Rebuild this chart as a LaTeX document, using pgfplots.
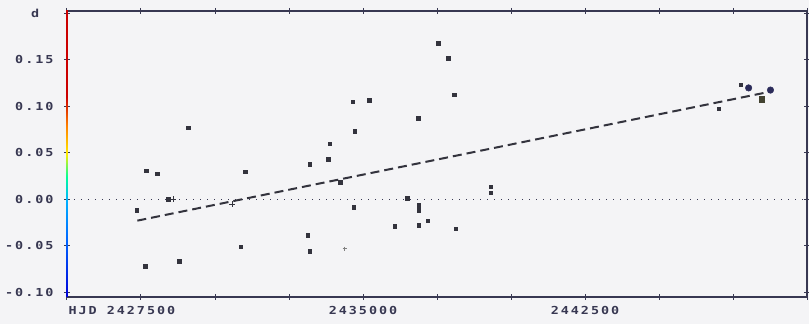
\documentclass[border=0pt]{standalone}
\usepackage{pgfplots}
\pgfplotsset{compat=1.18}
\usepackage{fontspec}
\newfontfamily\plotfont{DejaVu Sans Mono}[FakeStretch=1.22,LetterSpace=18]
\definecolor{ink}{rgb}{0.22,0.22,0.32}
\definecolor{ptc}{rgb}{0.20,0.20,0.24}
\definecolor{bg}{rgb}{0.955,0.955,0.965}
\pgfdeclareverticalshading{spine}{100bp}{color(0bp)=(blue!85!black); color(25bp)=(blue!85!black); color(35bp)=(blue!60!cyan); color(42bp)=(cyan!70!blue); color(46bp)=(cyan!60!green); color(50bp)=(yellow!85!orange); color(55bp)=(orange); color(60bp)=(red!80!black); color(75bp)=(red!80!black); color(100bp)=(red!80!black)}

\pgfplotstableread{
x y
2427356 -0.0114
2427634 -0.0717
2427668 0.0307
2428047 0.0277
2428416 0.0000
2428785 -0.0663
2429101 0.0769
2430867 -0.0511
2431025 0.0299
2433138 -0.0385
2433195 -0.0560
2433195 0.0375
2433833 0.0431
2433876 0.0598
2434229 0.0183
2434648 0.1049
2434682 -0.0084
2434715 0.0733
2435208 0.1069
2436074 -0.0292
2436494 0.0015
2436863 0.0871
2436887 -0.0060
2436887 -0.0117
2436887 -0.0277
2437182 -0.0231
2437534 0.1676
2437870 0.1519
2438071 0.1126
2438132 -0.0314
}\squares
\pgfplotstableread{
x y
2439323 0.0140
2439323 0.0069
2447022 0.0978
2447770 0.1231
}\dots
\pgfplotstableread{
x y
2428584 0.0000
2430588 -0.0055
}\pluses
\pgfplotstableread{
x y
2434380 -0.0530
}\faint
\pgfplotstableread{
x y
2448028 0.1198
2448766 0.1175
}\circs
\pgfplotstableread{
x y
2448464 0.1075
}\bigsq
\pgfplotstableread{
x y
2427376 -0.0229
2448745 0.1157
}\fit
\pgfplotstableread{
x y
2425000 0
2450000 0
}\zero

\begin{document}
\begin{tikzpicture}
\fill[bg] (-67pt,-27pt) rectangle (742pt,297pt);
\begin{axis}[
  at={(0,0)}, anchor=south west,
  scale only axis, width=740pt, height=286pt,
  xmin=2425000, xmax=2450000, ymin=-0.105, ymax=0.2025,
  xtick={2425000,2427500,2430000,2432500,2435000,2437500,2440000,2442500,2445000,2447500,2450000},
  xticklabels={{},{\llap{HJD }2427500},{},{},2435000,{},{},2442500,{},{},{}},
  ytick={-0.1,-0.05,0,0.05,0.1,0.15,0.2},
  yticklabels={-0.10,-0.05,0.00,0.05,0.10,0.15,{}},
  scaled ticks=false,
  tick align=center, major tick length=6pt,
  tick style={ink, line width=1pt},
  axis line style={ink, line width=1.5pt},
  ticklabel style={font=\plotfont\bfseries\fontsize{11}{11}\selectfont, text=ink},
  xticklabel style={yshift=-3pt},
  yticklabel style={xshift=-7pt},
  clip=false,
]
\addplot[ink, line width=1.3pt, dash pattern=on 1pt off 6pt] table {\zero};
\addplot[ptc, line width=2pt, dash pattern=on 9pt off 5pt] table {\fit};
\addplot[only marks, mark=square*, mark size=1.8pt, ptc] table {\squares};
\addplot[only marks, mark=square*, mark size=1.4pt, ptc] table {\dots};
\addplot[only marks, mark=+, mark size=3pt, ptc, line width=1pt] table {\pluses};
\addplot[only marks, mark=+, mark size=2pt, gray, line width=0.6pt] table {\faint};
\addplot[only marks, mark=*, mark size=3.3pt, ptc!85!blue] table {\circs};
\addplot[only marks, mark=square*, mark size=2.8pt, ptc!80!olive] table {\bigsq};
\shade[shading=spine] ([xshift=-0.9pt]rel axis cs:0,0) rectangle ([xshift=0.9pt]rel axis cs:0,1);
\node[font=\plotfont\bfseries\fontsize{11}{11}\selectfont, text=ink] at (rel axis cs:-0.043,0.99) {d};
\end{axis}
\pgfresetboundingbox
\path (-67pt,-27pt) rectangle (742pt,297pt);
\end{tikzpicture}
\end{document}
